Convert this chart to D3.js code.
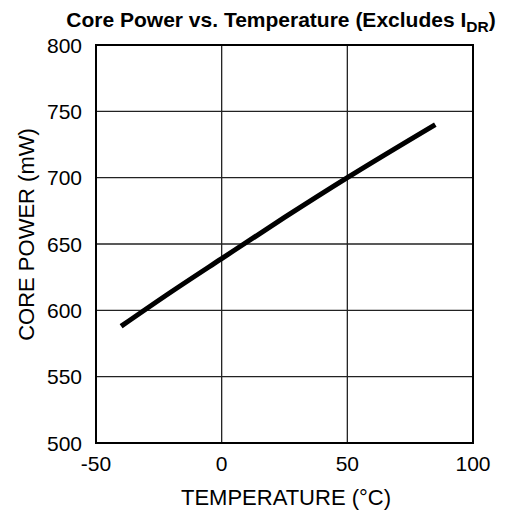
<!DOCTYPE html>
<html>
<head>
<meta charset="utf-8">
<script src="https://cdn.jsdelivr.net/npm/d3@7"></script>
<style>
  body { margin: 0; background: #fff; }
  text { font-family: Arial, "Liberation Sans", sans-serif; }
</style>
</head>
<body>
<div id="chart"></div>
<script>
// data
var temperatures = [-40, -20, 0, 25, 50, 85];
var corePower = [588, 614, 639, 670, 700, 740];

var xTicks = [-50, 0, 50, 100];
var yTicks = [500, 550, 600, 650, 700, 750, 800];

var W = 506, H = 511;
var plotLeft = 96, plotRight = 473, plotTop = 45, plotBottom = 443;

var svg = d3.select("#chart").append("svg")
    .attr("width", W)
    .attr("height", H);

var x = d3.scaleLinear().domain([-50, 100]).range([plotLeft, plotRight]);
var y = d3.scaleLinear().domain([500, 800]).range([plotBottom, plotTop]);

// grid
svg.append("g").selectAll("line")
    .data(xTicks.slice(1, -1))
    .enter().append("line")
        .attr("x1", function(d){ return x(d); })
        .attr("x2", function(d){ return x(d); })
        .attr("y1", plotTop)
        .attr("y2", plotBottom)
        .attr("stroke", "#222")
        .attr("stroke-width", 1.3);

svg.append("g").selectAll("line")
    .data(yTicks.slice(1, -1))
    .enter().append("line")
        .attr("x1", plotLeft)
        .attr("x2", plotRight)
        .attr("y1", function(d){ return y(d); })
        .attr("y2", function(d){ return y(d); })
        .attr("stroke", "#222")
        .attr("stroke-width", 1.3);

// frame
svg.append("rect")
    .attr("x", plotLeft)
    .attr("y", plotTop)
    .attr("width", plotRight - plotLeft)
    .attr("height", plotBottom - plotTop)
    .attr("fill", "none")
    .attr("stroke", "#000")
    .attr("stroke-width", 2);

// tick labels
svg.append("g").selectAll("text")
    .data(yTicks)
    .enter().append("text")
        .attr("x", 82)
        .attr("y", function(d){ return y(d) + 7.5; })
        .attr("text-anchor", "end")
        .attr("font-size", "21px")
        .text(function(d){ return d; });

svg.append("g").selectAll("text")
    .data(xTicks)
    .enter().append("text")
        .attr("x", function(d){ return x(d); })
        .attr("y", 471)
        .attr("text-anchor", "middle")
        .attr("font-size", "21px")
        .text(function(d){ return d; });

// curve
var line = d3.line()
    .x(function(d){ return x(d[0]); })
    .y(function(d){ return y(d[1]); })
    .curve(d3.curveMonotoneX);

svg.append("path")
    .datum(d3.zip(temperatures, corePower))
    .attr("d", line)
    .attr("fill", "none")
    .attr("stroke", "#000")
    .attr("stroke-width", 5);

// axis titles
svg.append("text")
    .attr("x", 286)
    .attr("y", 505)
    .attr("text-anchor", "middle")
    .attr("font-size", "22px")
    .text("TEMPERATURE (°C)");

svg.append("text")
    .attr("transform", "translate(33.5,234.5) rotate(-90)")
    .attr("text-anchor", "middle")
    .attr("font-size", "22px")
    .text("CORE POWER (mW)");

// title with subscript
var title = svg.append("text")
    .attr("x", 281)
    .attr("y", 27)
    .attr("text-anchor", "middle")
    .attr("font-size", "21px")
    .attr("font-weight", "bold");
title.append("tspan").text("Core Power vs. Temperature (Excludes I");
title.append("tspan").attr("font-size", "15.5px").attr("dy", 5).text("DR");
title.append("tspan").attr("dy", -5).text(")");
</script>
</body>
</html>
